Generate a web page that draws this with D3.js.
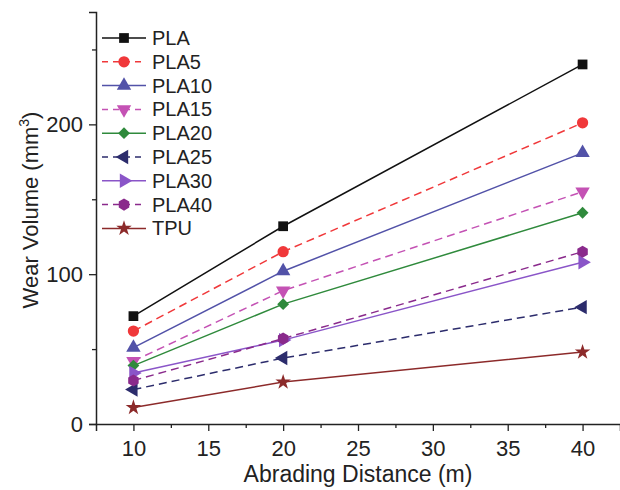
<!DOCTYPE html>
<html>
<head>
<meta charset="utf-8">
<script src="https://cdn.jsdelivr.net/npm/d3@7"></script>
<style>
  body { margin: 0; background: #fff; }
  svg { display: block; font-family: "Liberation Sans", Arial, sans-serif; }
</style>
</head>
<body>
<svg id="chart" width="620" height="490"></svg>
<script>
// abrading distance (m)
var distances = [10, 20, 40];
var seriesNames = ["PLA", "PLA5", "PLA10", "PLA15", "PLA20", "PLA25", "PLA30", "PLA40", "TPU"];
var pla   = [72, 132, 240];
var pla5  = [62, 115, 201];
var pla10 = [51, 102, 181];
var pla15 = [42, 89, 155];
var pla20 = [39, 80, 141];
var pla25 = [23, 44, 78];
var pla30 = [34, 56, 108];
var pla40 = [29, 57, 115];
var tpu   = [11, 28, 48];
var xTicks = [10, 15, 20, 25, 30, 35, 40];
var yTicks = [0, 100, 200];

var values = [pla, pla5, pla10, pla15, pla20, pla25, pla30, pla40, tpu];
var colors = ["#111111", "#f0383a", "#5252a8", "#c452b4", "#2f8a3c", "#2c2c6c", "#8a55c8", "#8a2a8c", "#8c2a2a"];
var dashed = [false, true, false, true, false, true, false, true, false];

// hexagon marker for PLA40
var symbolHexagon = {
  draw: function(ctx, size) {
    var r = Math.sqrt(size / (1.5 * Math.sqrt(3)));
    for (var i = 0; i < 6; i++) {
      var a = Math.PI / 6 + i * Math.PI / 3;
      if (i == 0) ctx.moveTo(r * Math.cos(a), r * Math.sin(a));
      else ctx.lineTo(r * Math.cos(a), r * Math.sin(a));
    }
    ctx.closePath();
  }
};
// marker type, rotation, size
var markers = [
  [d3.symbolSquare, 0, 95],
  [d3.symbolCircle, 0, 100],
  [d3.symbolTriangle, 0, 90],
  [d3.symbolTriangle, 180, 90],
  [d3.symbolSquare, 45, 70],
  [d3.symbolTriangle, -90, 90],
  [d3.symbolTriangle, 90, 90],
  [symbolHexagon, 0, 95],
  [d3.symbolStar, 0, 75]
];

var margin = {top: 12, right: 0, bottom: 66, left: 96},
    width = 620 - margin.left - margin.right,
    height = 490 - margin.top - margin.bottom;

var svg = d3.select("#chart")
  .append("g")
  .attr("transform", "translate(" + margin.left + "," + margin.top + ")");

var x = d3.scaleLinear().domain([7.5, 42.5]).range([0, width]);
var y = d3.scaleLinear().domain([0, 275]).range([height, 0]);

// axes, major + minor ticks
var xAxis = svg.append("g").attr("transform", "translate(0," + height + ")");
xAxis.call(d3.axisBottom(x).tickValues(xTicks).tickSize(7).tickPadding(9).tickFormat(d3.format("d")));
xAxis.append("g").call(d3.axisBottom(x).tickValues(d3.range(12.5, 42.5, 5)).tickSize(4).tickFormat(""))
  .select(".domain").remove();

var yAxis = svg.append("g");
yAxis.call(d3.axisLeft(y).tickValues(yTicks).tickSize(7).tickPadding(6).tickFormat(d3.format("d")));
yAxis.append("g").call(d3.axisLeft(y).tickValues([50, 150, 250]).tickSize(4).tickFormat(""))
  .select(".domain").remove();

svg.selectAll(".domain").attr("stroke", "#222").attr("stroke-width", 1.5);
svg.selectAll(".tick line").attr("stroke", "#222").attr("stroke-width", 1.3);
svg.selectAll(".tick text").attr("font-size", "22px").attr("fill", "#222")
  .attr("font-family", "Liberation Sans, Arial, sans-serif");

// axis titles
svg.append("text")
  .attr("x", width / 2)
  .attr("y", height + 58)
  .attr("text-anchor", "middle")
  .attr("font-size", "23px")
  .attr("fill", "#222")
  .text("Abrading Distance (m)");

var yt = svg.append("text")
  .attr("transform", "translate(-58," + (height / 2 - 8) + ") rotate(-90)")
  .attr("text-anchor", "middle")
  .attr("font-size", "22px")
  .attr("fill", "#222");
yt.append("tspan").text("Wear Volume (mm");
yt.append("tspan").attr("font-size", "14px").attr("dy", "-9").text("3");
yt.append("tspan").attr("dy", "9").text(")");

var line = d3.line()
  .x(function(d, i) { return x(distances[i]); })
  .y(function(d) { return y(d); });

function marker(sel, k) {
  sel.attr("d", d3.symbol().type(markers[k][0]).size(markers[k][2]))
    .attr("fill", colors[k]);
}

values.forEach(function(vals, k) {
  svg.append("path")
    .datum(vals)
    .attr("d", line)
    .attr("fill", "none")
    .attr("stroke", colors[k])
    .attr("stroke-width", 1.5)
    .attr("stroke-dasharray", dashed[k] ? "8,5" : null);

  svg.selectAll(".m" + k)
    .data(vals)
    .enter()
    .append("path")
    .attr("class", "m" + k)
    .attr("transform", function(d, i) {
      return "translate(" + x(distances[i]) + "," + y(d) + ") rotate(" + markers[k][1] + ")";
    })
    .call(marker, k);
});

// legend
var legend = svg.append("g").attr("transform", "translate(6,26)");
seriesNames.forEach(function(name, k) {
  var g = legend.append("g").attr("transform", "translate(0," + (k * 23.8) + ")");
  g.append("line")
    .attr("x1", 0).attr("x2", 44).attr("y1", 0).attr("y2", 0)
    .attr("stroke", colors[k])
    .attr("stroke-width", 1.5)
    .attr("stroke-dasharray", dashed[k] ? "6,5" : null);
  g.append("path")
    .attr("transform", "translate(22,0) rotate(" + markers[k][1] + ")")
    .call(marker, k);
  g.append("text")
    .attr("x", 50).attr("y", 7)
    .attr("font-size", "20px")
    .attr("fill", "#222")
    .text(name);
});
</script>
</body>
</html>
